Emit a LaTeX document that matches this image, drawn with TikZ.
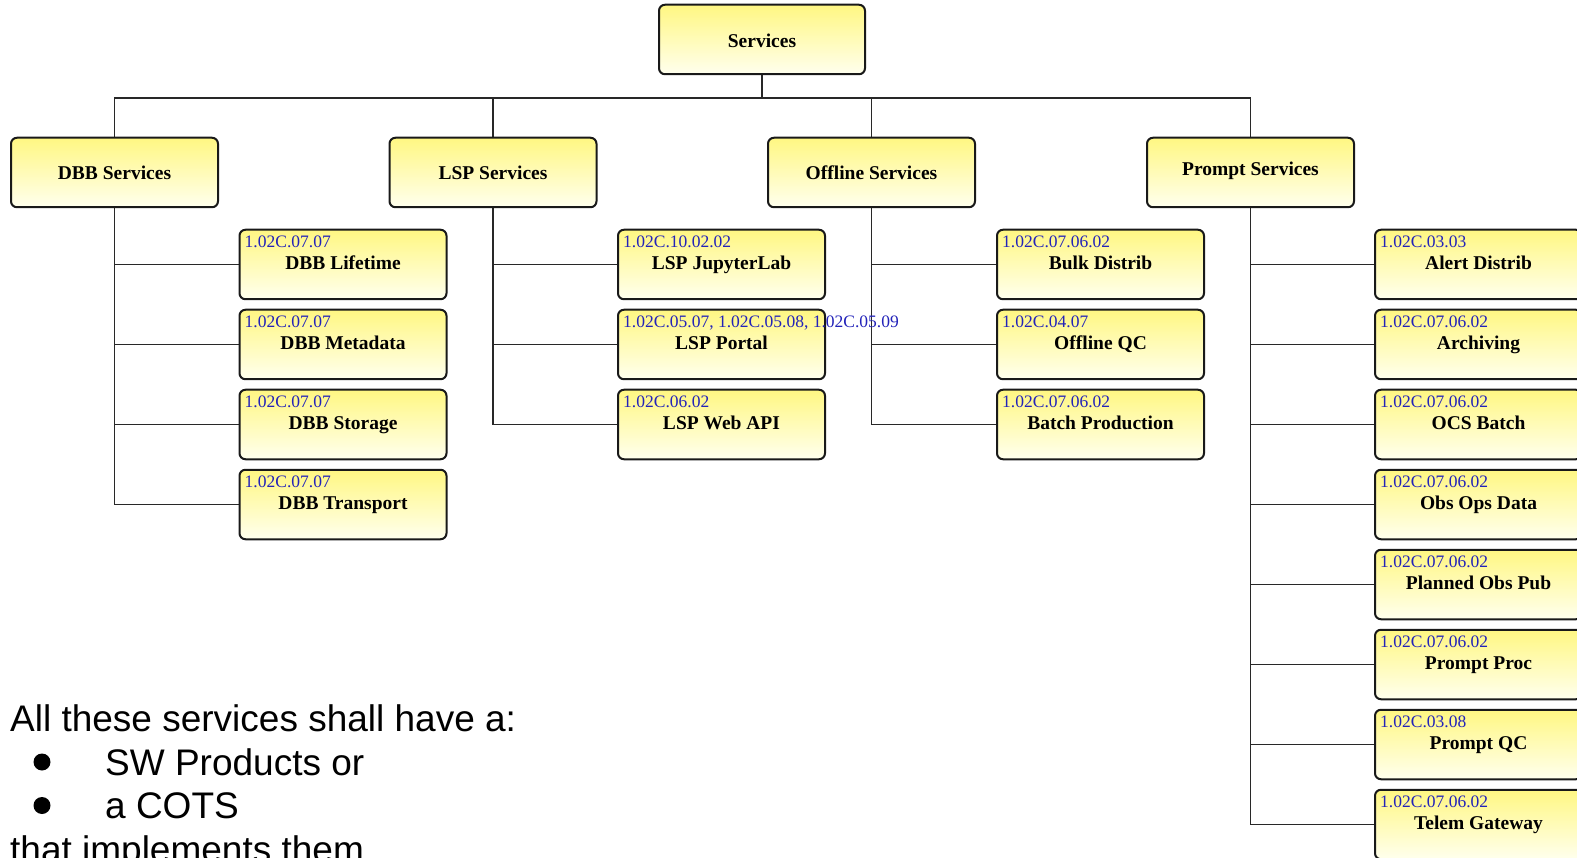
\documentclass[tikz,border=0pt]{standalone}
\usepackage{fontspec}
\setmainfont{Liberation Serif}
\newfontfamily\arialfont{Liberation Sans}
\definecolor{boxtop}{RGB}{255,247,130}
\definecolor{boxbot}{RGB}{255,255,238}
\definecolor{boxline}{RGB}{25,25,25}
\definecolor{wire}{RGB}{40,40,40}
\definecolor{codeblue}{RGB}{35,35,185}
\pgfdeclarelayer{wires}
\pgfsetlayers{wires,main}
\tikzset{
  unitbox/.style={draw=boxline, line width=2pt, rounded corners=6pt,
    top color=boxtop, bottom color=boxbot, minimum width=207pt,
    minimum height=69.5pt, inner sep=0pt},
  headtxt/.style={font=\fontsize{19.5}{22}\selectfont\bfseries, inner sep=0pt},
  codetxt/.style={font=\fontsize{17.5}{20}\selectfont, text=codeblue, inner sep=0pt, anchor=base west},
  titletxt/.style={font=\fontsize{19.5}{22}\selectfont\bfseries, inner sep=0pt, anchor=base},
  wire/.style={draw=wire, line width=1.8pt},
  notetxt/.style={font=\arialfont\fontsize{37}{44}\selectfont, inner sep=0pt, anchor=base west},
}
% a leaf box: name, centre x, top y, requirement code, title
\newcommand{\leafbox}[5]{%
  \node[unitbox] (#1) at (#2,#3+35) {};
  \node[codetxt] (#1c) at ([xshift=6pt,yshift=-19pt]#1.north west) {#4};
  \node[titletxt] (#1t) at ([yshift=-40.5pt]#1.north) {#5};
}
\begin{document}
\begin{tikzpicture}[x=1pt,y=-1pt]
\useasboundingbox (0,0) rectangle (1577,858);
\clip (0,0) rectangle (1577,858);

% root and first level
\node[unitbox, minimum width=206pt] (srv) at (762,39.5) {};
\node[headtxt] (srvt) at ([yshift=-1pt]srv.center) {Services};
\node[unitbox] (dbb) at (114.5,172.5) {};
\node[headtxt] (dbbt) at (dbb.center) {DBB Services};
\node[unitbox] (lsp) at (493,172.5) {};
\node[headtxt] (lspt) at (lsp.center) {LSP Services};
\node[unitbox] (off) at (871.5,172.5) {};
\node[headtxt] (offt) at (off.center) {Offline Services};
\node[unitbox] (pro) at (1250.5,172.5) {};
\node[headtxt] (prot) at ([yshift=2pt]pro.center) {Prompt Services};
\coordinate (bus) at (0,98);

% leaves
\leafbox{dla}{343}{229.5}{1.02C.07.07}{DBB Lifetime}
\leafbox{dlb}{343}{309.5}{1.02C.07.07}{DBB Metadata}
\leafbox{dlc}{343}{389.5}{1.02C.07.07}{DBB Storage}
\leafbox{dld}{343}{469.5}{1.02C.07.07}{DBB Transport}

\leafbox{lla}{721.5}{229.5}{1.02C.10.02.02}{LSP JupyterLab}
\leafbox{llb}{721.5}{309.5}{1.02C.05.07, 1.02C.05.08, 1.02C.05.09}{LSP Portal}
\leafbox{llc}{721.5}{389.5}{1.02C.06.02}{LSP Web API}

\leafbox{ola}{1100.5}{229.5}{1.02C.07.06.02}{Bulk Distrib}
\leafbox{olb}{1100.5}{309.5}{1.02C.04.07}{Offline QC}
\leafbox{olc}{1100.5}{389.5}{1.02C.07.06.02}{Batch Production}

\leafbox{pla}{1478.5}{229.5}{1.02C.03.03}{Alert Distrib}
\leafbox{plb}{1478.5}{309.5}{1.02C.07.06.02}{Archiving}
\leafbox{plc}{1478.5}{389.5}{1.02C.07.06.02}{OCS Batch}
\leafbox{pld}{1478.5}{469.5}{1.02C.07.06.02}{Obs Ops Data}
\leafbox{ple}{1478.5}{549.5}{1.02C.07.06.02}{Planned Obs Pub}
\leafbox{plf}{1478.5}{629.5}{1.02C.07.06.02}{Prompt Proc}
\leafbox{plg}{1478.5}{709.5}{1.02C.03.08}{Prompt QC}
\leafbox{plh}{1478.5}{789.5}{1.02C.07.06.02}{Telem Gateway}

% connectors, kept underneath the boxes and labels
\begin{pgfonlayer}{wires}
\begin{scope}[wire]
  \draw (srv.south) -- (srv.south |- bus);
  \draw (dbb.north) -- (dbb.north |- bus) -- (pro.north |- bus) -- (pro.north);
  \draw (lsp.north) -- (lsp.north |- bus);
  \draw (off.north) -- (off.north |- bus);
  \foreach \k in {dla,dlb,dlc,dld} \draw (dbb.south) |- (\k.west);
  \foreach \k in {lla,llb,llc} \draw (lsp.south) |- (\k.west);
  \foreach \k in {ola,olb,olc} \draw (off.south) |- (\k.west);
  \foreach \k in {pla,plb,plc,pld,ple,plf,plg,plh} \draw (pro.south) |- (\k.west);
\end{scope}
\end{pgfonlayer}

% note
\node[notetxt] (n1) at (10,731) {All these services shall have a:};
\fill (42,762) circle[radius=8.5];
\node[notetxt] (n2) at (105,775) {SW Products or};
\fill (42,805.5) circle[radius=8.5];
\node[notetxt] (n3) at (105,818.5) {a COTS};
\node[notetxt] (n4) at (10,862) {that implements them};
\end{tikzpicture}
\end{document}
